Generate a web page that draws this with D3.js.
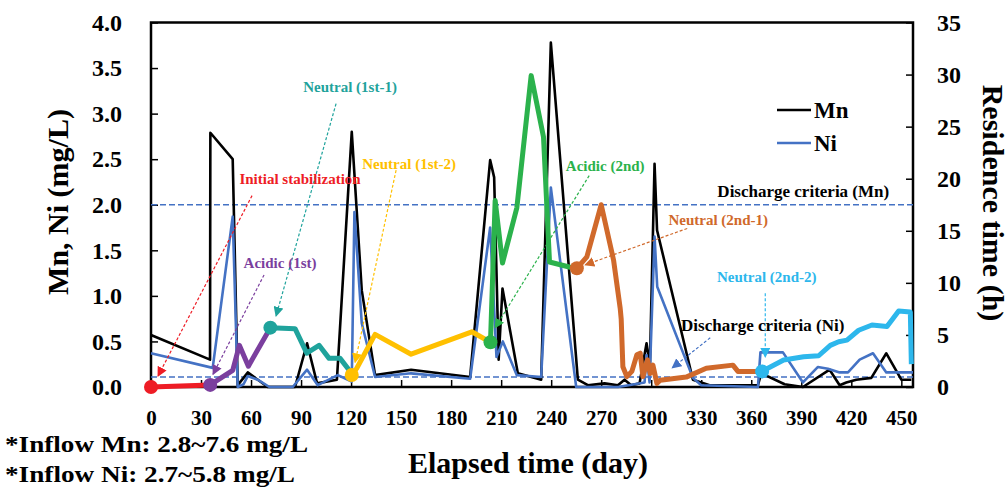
<!DOCTYPE html>
<html><head><meta charset="utf-8">
<script src="https://cdn.jsdelivr.net/npm/d3@7"></script>
<style>
body{margin:0;background:#fff;}
svg text{font-family:"Liberation Serif","Times New Roman",serif;font-weight:bold;}
</style></head>
<body><svg id="c" width="1008" height="488"></svg>
<script>
// ---- data ----
const xTicks = [0,30,60,90,120,150,180,210,240,270,300,330,360,390,420,450];
const yLeftTicks = [0,0.5,1,1.5,2,2.5,3,3.5,4];
const yRightTicks = [0,5,10,15,20,25,30,35];

const mnDay = [0,35.4,35.6,49,52,55.5,58,70,86.4,93.6,99.6,111.5,120.4,126.4,134.4,156,191.4,203.4,205.8,208.5,210.8,220,234,239.8,256,262,272,280,284,288,293,297.2,299.2,302,303.5,325,335,364,366,380,391,407,413,417,423,432,441,450,456];
const mnVal = [0.57,0.30,2.79,2.50,0.02,0.10,0.16,0.0,0.0,0.48,0.04,0.08,2.80,1.06,0.13,0.19,0.11,2.49,2.30,0.30,1.08,0.15,0.08,3.78,0.08,0.02,0.04,0.02,0.08,0.02,0.04,0.48,0.24,2.45,1.72,0.08,0.02,0.02,0.15,0.03,0.0,0.19,0.02,0.05,0.08,0.10,0.37,0.08,0.08];

const niDay = [0,37,49,52,55.5,58,64,71,85,93.6,100,112,120.4,122,126.4,134.4,156,191.4,203.4,207.2,211,219.4,234,239.8,255,280,290,296,297.2,299,302,303.6,325,330,364,365.5,379,391,400,406,413,418,425,433,441,457];
const niVal = [0.37,0.21,1.87,0.0,0.03,0.12,0.08,0.0,0.0,0.19,0.02,0.13,0.06,1.92,0.70,0.11,0.15,0.09,1.75,0.33,0.50,0.13,0.11,2.19,0.0,0.0,0.03,0.05,0.35,0.05,1.65,1.10,0.10,0.02,0.0,0.38,0.38,0.05,0.22,0.20,0.16,0.16,0.30,0.37,0.16,0.16];

// residence time (h) for each operating stage
const redDay = [0,35.5];                       const redVal = [0,0.2];
const purpleDay = [35.5,49,53,58.4,71.6];      const purpleVal = [0.2,1.6,4.0,2.0,5.7];
const tealDay = [71.6,86.4,93.4,100.8,106.8,113.4,120.4]; const tealVal = [5.7,5.6,3.25,4.0,2.75,2.75,1.3];
const yellowDay = [120.4,123.4,134.4,156,192.4,203.6];    const yellowVal = [1.15,1.8,5.05,3.15,5.3,4.3];
const greenDay = [203.6,206.4,210.8,219.4,228,235.4,239,251.4,255.4]; const greenVal = [4.3,17.9,11.9,17.2,29.9,24.0,12.0,11.5,11.4];
const orangeDay = [255.4,261.4,270,277.4,281.4,282,283,285.4,288.4,291.4,293.4,295,297.8,299.4,301,303.4,305.4,321,333,349,352,366.5];
const orangeVal = [11.4,12.5,17.5,12.2,7.55,6.5,1.95,1.0,1.5,3.1,3.25,1.0,2.6,1.3,2.1,0.35,0.65,0.95,1.8,2.1,1.5,1.5];
const cyanDay = [366.5,379.4,391.4,400.4,407.4,412.4,417.4,424.4,432.4,441.4,448.4,455.4,456];
const cyanVal = [1.5,2.6,2.9,3.0,4.0,4.35,4.5,5.45,5.95,5.8,7.3,7.2,2.2];

const mnCriteria = 2.0, niCriteria = 0.11;

// annotations (day, mg/L)
const annText = ["Neutral (1st-1)","Initial stabilization","Neutral (1st-2)","Acidic (1st)","Acidic (2nd)","Discharge criteria (Mn)","Neutral (2nd-1)","Neutral (2nd-2)","Discharge criteria (Ni)"];
const annX = [119.4,89.4,154.8,77.4,272.4,391.2,340.2,369.3,366.9];
const annY = [3.29,2.29,2.45,1.36,2.43,2.15,1.83,1.21,0.68];
const annColor = ["#1FA39C","#EE1C25","#FFC000","#7B3F9E","#2BB24C","#000000","#D0692B","#2DB7EC","#000000"];
const annSize = [15,15,15,15,15,17,15,15,17];

const arrFromX = [111.0,60.6,147.0,67.8,262.8,321.6,368.4,335.4];
const arrFromY = [3.11,2.10,2.38,1.23,2.32,1.74,1.03,0.54];
const arrToX   = [75.0,4.2,122.4,37.2,206.4,260.4,368.4,312.6];
const arrToY   = [0.78,0.12,0.27,0.14,0.65,1.34,0.33,0.21];
const arrColor = ["#1FA39C","#EE1C25","#FFC000","#7B3F9E","#2BB24C","#D0692B","#2DB7EC","#4472C4"];

// ---- chart ----
const svg = d3.select("#c");
const L=151, R=913, T=22.5, B=387;
const x = d3.scaleLinear().domain([0,457]).range([L,R]);
const yL = d3.scaleLinear().domain([0,4]).range([B,T]);
const yR = d3.scaleLinear().domain([0,35]).range([B,T]);

// axes
const ax = svg.append("g").attr("transform",`translate(0,${B})`)
  .call(d3.axisBottom(x).tickValues(xTicks).tickSize(-7).tickPadding(23).tickFormat(d3.format("d")));
const ayl = svg.append("g").attr("transform",`translate(${L},0)`)
  .call(d3.axisLeft(yL).tickValues(yLeftTicks).tickSize(-7).tickPadding(29).tickFormat(d3.format(".1f")));
const ayr = svg.append("g").attr("transform",`translate(${R},0)`)
  .call(d3.axisRight(yR).tickValues(yRightTicks).tickSize(-7).tickPadding(24).tickFormat(d3.format("d")));
[ax,ayl,ayr].forEach(g=>{
  g.select(".domain").remove();
  g.selectAll(".tick line").attr("stroke","#000").attr("stroke-width",1.5);
  g.selectAll(".tick text").attr("font-size",24).attr("fill","#000")
   .style("font-family","'Liberation Serif','Times New Roman',serif").style("font-weight","bold");
});
ax.selectAll(".tick text").attr("font-size",21);

// frame
svg.append("rect").attr("x",L).attr("y",T).attr("width",R-L).attr("height",B-T)
  .attr("fill","none").attr("stroke","#000").attr("stroke-width",2.5);

// criteria lines
svg.append("line").attr("x1",L).attr("x2",R).attr("y1",yL(mnCriteria)).attr("y2",yL(mnCriteria))
  .attr("stroke","#4472C4").attr("stroke-width",1.5).attr("stroke-dasharray","6,3");
svg.append("line").attr("x1",L).attr("x2",R).attr("y1",yL(niCriteria)).attr("y2",yL(niCriteria))
  .attr("stroke","#4472C4").attr("stroke-width",1.5).attr("stroke-dasharray","6,3");

const lineL = d3.line().x(d=>x(d[0])).y(d=>yL(d[1]));
const lineR = d3.line().x(d=>x(d[0])).y(d=>yR(d[1]));
const zip = (a,b)=>a.map((v,i)=>[v,b[i]]);

svg.append("path").datum(zip(mnDay,mnVal)).attr("d",lineL).attr("fill","none")
  .attr("stroke","#000").attr("stroke-width",2.6).attr("stroke-linejoin","round");
svg.append("path").datum(zip(niDay,niVal)).attr("d",lineL).attr("fill","none")
  .attr("stroke","#4472C4").attr("stroke-width",2.6).attr("stroke-linejoin","round");

const stages = [
  [redDay,redVal,"#EE1C25"],[purpleDay,purpleVal,"#7B3F9E"],[tealDay,tealVal,"#1FA39C"],
  [yellowDay,yellowVal,"#FFC000"],[greenDay,greenVal,"#2BB24C"],[orangeDay,orangeVal,"#D0692B"],
  [cyanDay,cyanVal,"#2DB7EC"]];
stages.forEach(s=>{
  svg.append("path").datum(zip(s[0],s[1])).attr("d",lineR).attr("fill","none")
    .attr("stroke",s[2]).attr("stroke-width",5).attr("stroke-linejoin","round");
});
stages.forEach(s=>{
  svg.append("circle").attr("cx",x(s[0][0])).attr("cy",yR(s[1][0])).attr("r",7).attr("fill",s[2]);
});

// arrows
const defs = svg.append("defs");
arrColor.forEach((c,i)=>{
  defs.append("marker").attr("id","m"+i).attr("viewBox","0 0 10 10").attr("refX",9).attr("refY",5)
    .attr("markerWidth",10).attr("markerHeight",10).attr("markerUnits","userSpaceOnUse").attr("orient","auto")
    .append("path").attr("d","M0,0L10,5L0,10Z").attr("fill",c);
});
arrColor.forEach((c,i)=>{
  svg.append("line").attr("x1",x(arrFromX[i])).attr("y1",yL(arrFromY[i]))
    .attr("x2",x(arrToX[i])).attr("y2",yL(arrToY[i]))
    .attr("stroke",c).attr("stroke-width",1.2).attr("stroke-dasharray","3,2")
    .attr("marker-end",`url(#m${i})`);
});

// annotation text
annText.forEach((t,i)=>{
  svg.append("text").attr("x",x(annX[i])).attr("y",yL(annY[i])).attr("dy","0.35em")
    .attr("text-anchor","middle").attr("font-size",annSize[i]).attr("fill",annColor[i]).text(t);
});

// legend
const leg = [["Mn","#000",110],["Ni","#4472C4",143]];
leg.forEach(l=>{
  svg.append("line").attr("x1",777).attr("x2",811).attr("y1",l[2]).attr("y2",l[2])
    .attr("stroke",l[1]).attr("stroke-width",2.6);
  svg.append("text").attr("x",814).attr("y",l[2]).attr("dy","0.35em").attr("font-size",23).attr("fill","#000").text(l[0]);
});

// axis titles
svg.append("text").attr("transform","translate(57,202) rotate(-90)").attr("text-anchor","middle")
  .attr("dy","0.35em").attr("font-size",30).text("Mn, Ni (mg/L)");
svg.append("text").attr("transform","translate(993,203) rotate(90)").attr("text-anchor","middle")
  .attr("dy","0.35em").attr("font-size",30).text("Residence time (h)");
svg.append("text").attr("x",528).attr("y",462).attr("text-anchor","middle").attr("dy","0.35em")
  .attr("font-size",30).text("Elapsed time (day)");
svg.append("text").attr("x",5).attr("y",444).attr("dy","0.35em").attr("font-size",24)
  .attr("textLength",303).attr("lengthAdjust","spacingAndGlyphs").text("*Inflow Mn: 2.8~7.6 mg/L");
svg.append("text").attr("x",5).attr("y",474).attr("dy","0.35em").attr("font-size",24)
  .attr("textLength",290).attr("lengthAdjust","spacingAndGlyphs").text("*Inflow Ni: 2.7~5.8 mg/L");
</script></body></html>
